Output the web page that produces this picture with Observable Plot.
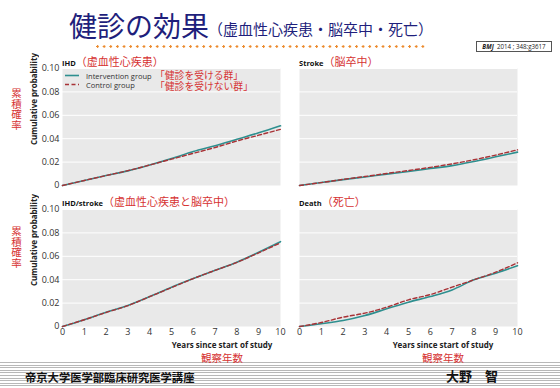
<!DOCTYPE html>
<html><head><meta charset="utf-8">
<script src="https://cdn.jsdelivr.net/npm/d3@7"></script>
<script src="https://cdn.jsdelivr.net/npm/@observablehq/plot@0.6"></script>
<style>
body{margin:0;background:#fff;}
#root{position:relative;width:560px;height:388px;overflow:hidden;font-family:"Open Sans","Noto Sans CJK JP",sans-serif;}
.abs{position:absolute;white-space:nowrap;}
.jp{font-family:"Noto Sans CJK JP",sans-serif;}
.red{color:#d63232;}
.ptitle{font-size:7.5px;font-weight:bold;color:#111;line-height:12px;}
.ptitle span{font-family:"Noto Sans CJK JP",sans-serif;font-weight:normal;font-size:11px;color:#d63232;}
.ylab{font-size:8px;font-weight:bold;color:#222;writing-mode:vertical-rl;transform:rotate(180deg);line-height:10px;width:10px;text-align:center;}
.vjp{font-size:10.5px;color:#d63232;writing-mode:vertical-rl;text-orientation:upright;line-height:14px;width:14px;}
.xlab{font-size:8px;font-weight:bold;color:#222;}
</style></head>
<body><div id="root"></div>
<script>
const years = [0,1,2,3,4,5,6,7,8,9,10];
const yTicks = [0,0.02,0.04,0.06,0.08,0.10];
const xTicks = [0,1,2,3,4,5,6,7,8,9,10];
const seriesNames = ["Intervention group","Control group"];
const seriesJa = ["「健診を受ける群」","「健診を受けない群」"];

const ihdIntervention = [0,0.0043,0.0085,0.0125,0.0175,0.023,0.029,0.034,0.0395,0.045,0.051];
const ihdControl      = [0,0.0043,0.0085,0.0127,0.0175,0.0225,0.0275,0.0325,0.038,0.043,0.048];
const strokeIntervention = [0,0.0025,0.005,0.0073,0.0097,0.012,0.0145,0.017,0.0205,0.0245,0.0285];
const strokeControl      = [0,0.0025,0.0052,0.0077,0.0103,0.0128,0.0155,0.0185,0.022,0.026,0.0305];
const ihdStrokeIntervention = [0,0.0058,0.0122,0.018,0.0256,0.0336,0.041,0.048,0.055,0.0635,0.0725];
const ihdStrokeControl      = [0,0.0058,0.012,0.0178,0.0255,0.0333,0.041,0.048,0.0548,0.063,0.0715];
const deathIntervention = [0,0.0023,0.0051,0.0094,0.0151,0.0208,0.0256,0.0313,0.0399,0.0456,0.052];
const deathControl      = [0,0.0034,0.008,0.0114,0.0165,0.0228,0.0273,0.0336,0.0399,0.0464,0.0544];

const panelTitles = [
  ["IHD","（虚血性心疾患）"],
  ["Stroke","（脳卒中）"],
  ["IHD/stroke","（虚血性心疾患と脳卒中）"],
  ["Death","（死亡）"]
];
const yAxisJa = "累積確率";

const TEAL = "#2e8f8f", DRED = "#a83236";
const root = document.getElementById("root");

function add(html, css){
  const d = document.createElement("div");
  d.className = "abs " + (css.cls||"");
  d.innerHTML = html;
  Object.assign(d.style, css.style||{});
  root.appendChild(d);
  return d;
}

function panel(inter, ctrl, o){
  const rows = years.map((t,i)=>({t, v:inter[i], g:"i"})).concat(years.map((t,i)=>({t, v:ctrl[i], g:"c"})));
  const p = Plot.plot({
    width:o.width, height:o.height,
    marginLeft:o.ml, marginRight:6, marginTop:8, marginBottom:o.mb,
    style:{fontFamily:"Open Sans, sans-serif", fontSize:"9px", color:"#333", background:"transparent", overflow:"visible"},
    x:{domain:[0,10], axis: o.showX ? "bottom" : null, ticks:xTicks, tickSize:0, tickPadding:2, label:null, tickFormat:d3.format("d")},
    y:{domain:[0,0.1], axis: o.showY ? "left" : null, ticks:yTicks, tickSize:0, tickPadding:3, label:null, tickFormat:d=> d===0 ? "0" : d3.format(".2f")(d)},
    marks:[
      Plot.frame({fill:"#e9e9e9", stroke:"none"}),
      Plot.ruleY(yTicks.slice(1), {stroke:"#fff", strokeWidth:1}),
      Plot.line(rows.filter(r=>r.g==="i"), {x:"t", y:"v", stroke:TEAL, strokeWidth:1.6, curve:"monotone-x"}),
      Plot.line(rows.filter(r=>r.g==="c"), {x:"t", y:"v", stroke:DRED, strokeWidth:1.4, strokeDasharray:"4,2.5", curve:"monotone-x"})
    ]
  });
  p.style.position = "absolute";
  p.style.left = o.left + "px";
  p.style.top = o.top + "px";
  root.appendChild(p);
}

// footer stripes (drawn first, behind everything)
add("", {style:{left:"0px", top:"362px", width:"560px", height:"26px",
  backgroundImage:"repeating-linear-gradient(to bottom, #b8b8b8 0px, #b8b8b8 1px, #fff 1px, #fff 2.6px)"}});

// panels
panel(ihdIntervention, ihdControl, {left:0, top:60, width:286, height:127, ml:62, mb:2, showY:true, showX:false});
panel(strokeIntervention, strokeControl, {left:293, top:60, width:230, height:127, ml:6, mb:2, showY:false, showX:false});
panel(ihdStrokeIntervention, ihdStrokeControl, {left:0, top:201, width:286, height:140, ml:62, mb:15, showY:true, showX:true});
panel(deathIntervention, deathControl, {left:293, top:201, width:230, height:140, ml:6, mb:15, showY:false, showX:true});

// panel titles
const tpos = [[62,55],[299,55],[62,195],[299,195]];
panelTitles.forEach((t,i)=>{
  add(t[0] + "<span>" + t[1] + "</span>", {cls:"ptitle", style:{left:tpos[i][0]+"px", top:tpos[i][1]+"px"}});
});

// title
add("健診の効果", {cls:"jp", style:{left:"69px", top:"8px", fontSize:"28px", lineHeight:"34px", color:"#1f1f7c"}});
add("（虚血性心疾患・脳卒中・死亡）", {cls:"jp", style:{left:"208px", top:"19px", fontSize:"15px", lineHeight:"20px", color:"#1f1f7c"}});
add("", {style:{left:"96px", top:"45px", width:"331px", height:"3px",
  backgroundImage:"radial-gradient(circle at 1.5px 1.5px, #ec8a2c 1.1px, transparent 1.4px)", backgroundSize:"6.65px 3px"}});
add("<b><i>BMJ</i></b>&nbsp; 2014 ; 348:g3617", {style:{left:"476px", top:"41px", width:"74px", height:"9px", border:"1px solid #555",
  fontSize:"6.2px", lineHeight:"9px", color:"#222", textAlign:"center", fontFamily:"Open Sans, sans-serif"}});

// legend
add('<svg width="14" height="3" style="display:block"><line x1="0" x2="14" y1="1.5" y2="1.5" stroke="'+TEAL+'" stroke-width="1.6"/></svg>', {style:{left:"65px", top:"74px"}});
add('<svg width="14" height="3" style="display:block"><line x1="0" x2="14" y1="1.5" y2="1.5" stroke="'+DRED+'" stroke-width="1.4" stroke-dasharray="4,2.5"/></svg>', {style:{left:"65px", top:"83px"}});
add(seriesNames[0], {style:{left:"86px", top:"70.5px", fontSize:"7.5px", lineHeight:"10px", color:"#333"}});
add(seriesNames[1], {style:{left:"86px", top:"79.5px", fontSize:"7.5px", lineHeight:"10px", color:"#333"}});
add(seriesJa[0] + "<br>" + seriesJa[1], {cls:"jp red", style:{left:"155px", top:"70px", fontSize:"9.8px", lineHeight:"10.5px"}});

// y labels
[105,246].forEach(cy=>{
  add("Cumulative probability", {cls:"ylab", style:{left:"29px", top:(cy-40)+"px", height:"80px"}});
});
[88,226].forEach(top=>{
  add(yAxisJa, {cls:"vjp jp", style:{left:"9px", top:top+"px"}});
});

// x labels
[222,443].forEach(cx=>{
  add("Years since start of study", {cls:"xlab", style:{left:(cx-60)+"px", top:"340px", width:"120px", textAlign:"center", lineHeight:"10px"}});
  add("観察年数", {cls:"jp red", style:{left:(cx-30)+"px", top:"352px", width:"60px", textAlign:"center", fontSize:"10.5px", lineHeight:"12px"}});
});

// footer text
add("帝京大学医学部臨床研究医学講座", {cls:"jp", style:{left:"25px", top:"370px", fontSize:"11.3px", lineHeight:"14px", fontWeight:"bold", color:"#111"}});
add("大野　智", {cls:"jp", style:{left:"446px", top:"367px", fontSize:"13px", lineHeight:"17px", fontWeight:"bold", color:"#111"}});
</script></body></html>
